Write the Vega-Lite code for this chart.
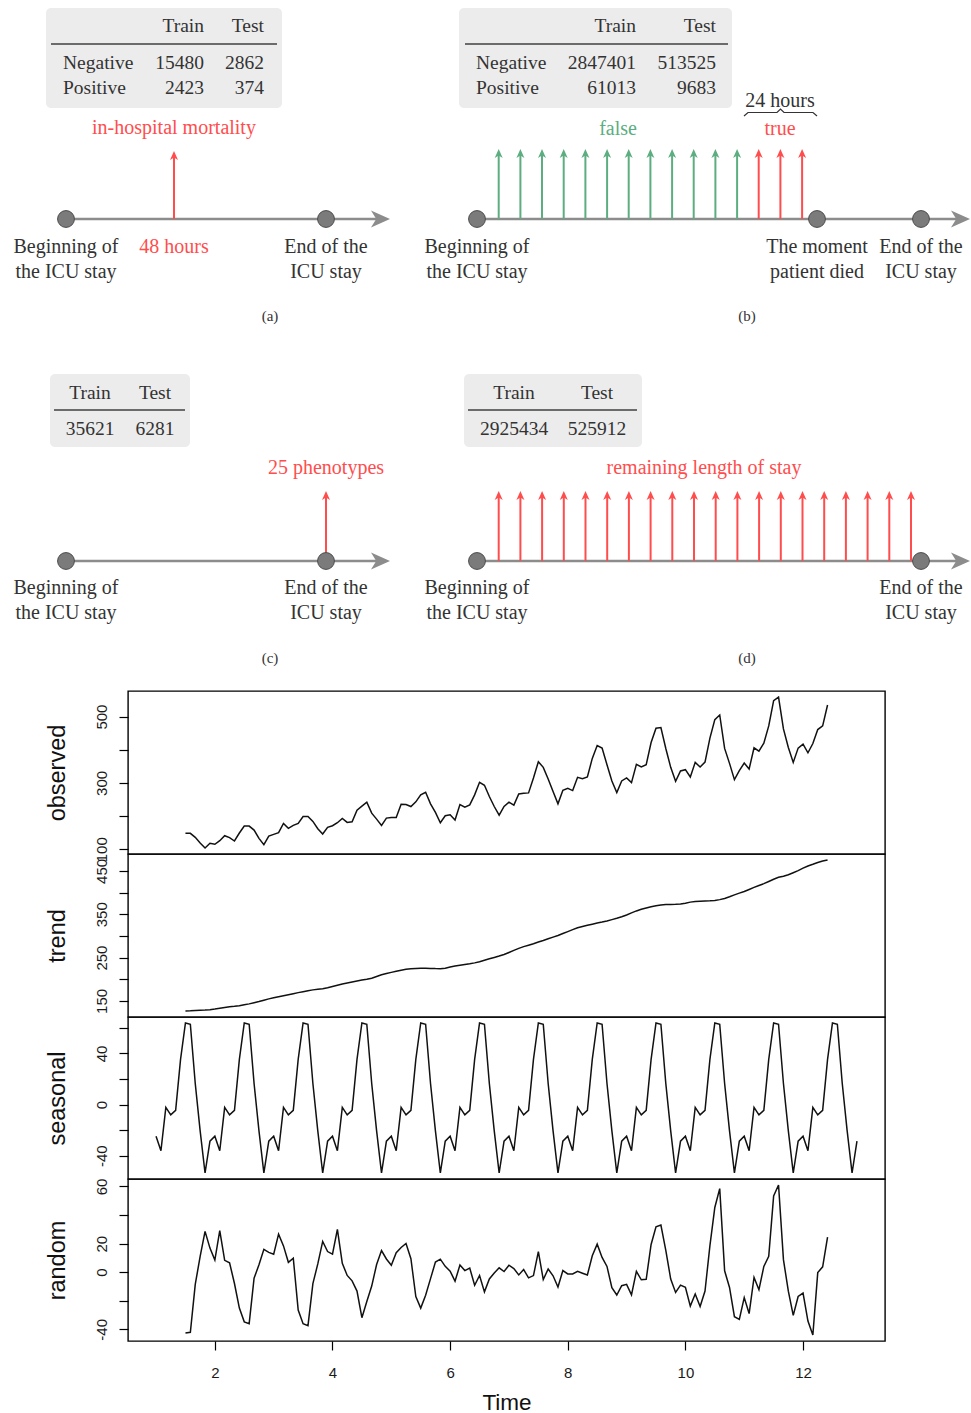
{
  "$schema": "https://vega.github.io/schema/vega-lite/v6.json",
  "padding": 0,
  "spacing": 0,
  "bounds": "flush",
  "background": "white",
  "resolve": {"scale": {"x": "independent", "y": "independent", "color": "independent"}},
  "config": {
    "view": {"stroke": "#000000", "strokeWidth": 1.4},
    "axis": {"labelFont": "Liberation Sans", "titleFont": "Liberation Sans", "grid": false, "domain": false, "tickColor": "#000000", "tickWidth": 1.2, "tickSize": 9, "labelColor": "#1a1a1a", "titleColor": "#111111", "titleFontWeight": "normal", "labelFontSize": 15, "titleFontSize": 23.5, "labelOverlap": false, "labelBound": false, "labelFlush": false},
    "text": {"font": "Liberation Serif"}
  },
  "datasets": {
    "anchor": [{"x": 0, "y": 0}],
    "tables": [
      {"x": 45, "x2": 281, "y": 7, "y2": 107},
      {"x": 458, "x2": 731, "y": 7, "y2": 107},
      {"x": 49, "x2": 189, "y": 373, "y2": 446},
      {"x": 463, "x2": 641, "y": 373, "y2": 446}
    ],
    "table_rules": [
      {"x": 50, "x2": 276, "y": 43},
      {"x": 464, "x2": 727, "y": 43},
      {"x": 53, "x2": 184, "y": 409},
      {"x": 467, "x2": 636, "y": 409}
    ],
    "tbl_right": [
      {"x": 203, "y": 25, "label": "Train"}, {"x": 263, "y": 25, "label": "Test"},
      {"x": 203, "y": 62, "label": "15480"}, {"x": 263, "y": 62, "label": "2862"},
      {"x": 203, "y": 87, "label": "2423"}, {"x": 263, "y": 87, "label": "374"},
      {"x": 635, "y": 25, "label": "Train"}, {"x": 715, "y": 25, "label": "Test"},
      {"x": 635, "y": 62, "label": "2847401"}, {"x": 715, "y": 62, "label": "513525"},
      {"x": 635, "y": 87, "label": "61013"}, {"x": 715, "y": 87, "label": "9683"}
    ],
    "tbl_left": [
      {"x": 62, "y": 62, "label": "Negative"}, {"x": 62, "y": 87, "label": "Positive"},
      {"x": 475, "y": 62, "label": "Negative"}, {"x": 475, "y": 87, "label": "Positive"}
    ],
    "tbl_center": [
      {"x": 89, "y": 392, "label": "Train"}, {"x": 154, "y": 392, "label": "Test"},
      {"x": 89, "y": 428, "label": "35621"}, {"x": 154, "y": 428, "label": "6281"},
      {"x": 513, "y": 392, "label": "Train"}, {"x": 596, "y": 392, "label": "Test"},
      {"x": 513, "y": 428, "label": "2925434"}, {"x": 596, "y": 428, "label": "525912"}
    ],
    "labels": [
      {"x": 173, "y": 127, "label": "in-hospital mortality", "cls": "positive"},
      {"x": 65, "y": 246, "label": "Beginning of", "cls": "neutral"},
      {"x": 65, "y": 271, "label": "the ICU stay", "cls": "neutral"},
      {"x": 173, "y": 246, "label": "48 hours", "cls": "positive"},
      {"x": 325, "y": 246, "label": "End of the", "cls": "neutral"},
      {"x": 325, "y": 271, "label": "ICU stay", "cls": "neutral"},
      {"x": 779, "y": 100, "label": "24 hours", "cls": "neutral"},
      {"x": 617, "y": 128, "label": "false", "cls": "negative"},
      {"x": 779, "y": 128, "label": "true", "cls": "positive"},
      {"x": 476, "y": 246, "label": "Beginning of", "cls": "neutral"},
      {"x": 476, "y": 271, "label": "the ICU stay", "cls": "neutral"},
      {"x": 816, "y": 246, "label": "The moment", "cls": "neutral"},
      {"x": 816, "y": 271, "label": "patient died", "cls": "neutral"},
      {"x": 920, "y": 246, "label": "End of the", "cls": "neutral"},
      {"x": 920, "y": 271, "label": "ICU stay", "cls": "neutral"},
      {"x": 325, "y": 467, "label": "25 phenotypes", "cls": "positive"},
      {"x": 65, "y": 587, "label": "Beginning of", "cls": "neutral"},
      {"x": 65, "y": 612, "label": "the ICU stay", "cls": "neutral"},
      {"x": 325, "y": 587, "label": "End of the", "cls": "neutral"},
      {"x": 325, "y": 612, "label": "ICU stay", "cls": "neutral"},
      {"x": 703, "y": 467, "label": "remaining length of stay", "cls": "positive"},
      {"x": 476, "y": 587, "label": "Beginning of", "cls": "neutral"},
      {"x": 476, "y": 612, "label": "the ICU stay", "cls": "neutral"},
      {"x": 920, "y": 587, "label": "End of the", "cls": "neutral"},
      {"x": 920, "y": 612, "label": "ICU stay", "cls": "neutral"}
    ],
    "captions": [
      {"x": 269, "y": 315, "label": "(a)"}, {"x": 746, "y": 315, "label": "(b)"},
      {"x": 269, "y": 657, "label": "(c)"}, {"x": 746, "y": 657, "label": "(d)"}
    ],
    "timelines": [
      {"x": 65, "x2": 389, "y": 218},
      {"x": 476, "x2": 969, "y": 218},
      {"x": 65, "x2": 389, "y": 560},
      {"x": 476, "x2": 969, "y": 560}
    ],
    "events": [
      {"x": 65, "y": 218}, {"x": 325, "y": 218},
      {"x": 476, "y": 218}, {"x": 816, "y": 218}, {"x": 920, "y": 218},
      {"x": 65, "y": 560}, {"x": 325, "y": 560},
      {"x": 476, "y": 560}, {"x": 920, "y": 560}
    ],
    "arrows": [
      {"x": 173, "y": 218, "y2": 150, "cls": "positive"},
      {"x": 497.7, "y": 218, "y2": 148, "cls": "negative"},
      {"x": 519.4, "y": 218, "y2": 148, "cls": "negative"},
      {"x": 541.0, "y": 218, "y2": 148, "cls": "negative"},
      {"x": 562.7, "y": 218, "y2": 148, "cls": "negative"},
      {"x": 584.4, "y": 218, "y2": 148, "cls": "negative"},
      {"x": 606.1, "y": 218, "y2": 148, "cls": "negative"},
      {"x": 627.7, "y": 218, "y2": 148, "cls": "negative"},
      {"x": 649.4, "y": 218, "y2": 148, "cls": "negative"},
      {"x": 671.1, "y": 218, "y2": 148, "cls": "negative"},
      {"x": 692.7, "y": 218, "y2": 148, "cls": "negative"},
      {"x": 714.4, "y": 218, "y2": 148, "cls": "negative"},
      {"x": 736.1, "y": 218, "y2": 148, "cls": "negative"},
      {"x": 757.7, "y": 218, "y2": 148, "cls": "positive"},
      {"x": 779.4, "y": 218, "y2": 148, "cls": "positive"},
      {"x": 801.1, "y": 218, "y2": 148, "cls": "positive"},
      {"x": 325, "y": 560, "y2": 490, "cls": "positive"},
      {"x": 497.7, "y": 560, "y2": 490, "cls": "positive"},
      {"x": 519.4, "y": 560, "y2": 490, "cls": "positive"},
      {"x": 541.1, "y": 560, "y2": 490, "cls": "positive"},
      {"x": 562.8, "y": 560, "y2": 490, "cls": "positive"},
      {"x": 584.5, "y": 560, "y2": 490, "cls": "positive"},
      {"x": 606.2, "y": 560, "y2": 490, "cls": "positive"},
      {"x": 627.9, "y": 560, "y2": 490, "cls": "positive"},
      {"x": 649.6, "y": 560, "y2": 490, "cls": "positive"},
      {"x": 671.3, "y": 560, "y2": 490, "cls": "positive"},
      {"x": 693.0, "y": 560, "y2": 490, "cls": "positive"},
      {"x": 714.7, "y": 560, "y2": 490, "cls": "positive"},
      {"x": 736.4, "y": 560, "y2": 490, "cls": "positive"},
      {"x": 758.1, "y": 560, "y2": 490, "cls": "positive"},
      {"x": 779.8, "y": 560, "y2": 490, "cls": "positive"},
      {"x": 801.5, "y": 560, "y2": 490, "cls": "positive"},
      {"x": 823.2, "y": 560, "y2": 490, "cls": "positive"},
      {"x": 844.9, "y": 560, "y2": 490, "cls": "positive"},
      {"x": 866.6, "y": 560, "y2": 490, "cls": "positive"},
      {"x": 888.3, "y": 560, "y2": 490, "cls": "positive"},
      {"x": 910.0, "y": 560, "y2": 490, "cls": "positive"}
    ],
    "brace": [
      {"x": 743, "y": 115, "ord": 1},
      {"x": 747, "y": 111.5, "ord": 2},
      {"x": 776, "y": 111.5, "ord": 3},
      {"x": 779.5, "y": 108, "ord": 4},
      {"x": 783, "y": 111.5, "ord": 5},
      {"x": 812, "y": 111.5, "ord": 6},
      {"x": 816, "y": 115, "ord": 7}
    ],
    "ts": [
      {"time": 1, "seasonal": -24.75},
      {"time": 1.0833, "seasonal": -36.19},
      {"time": 1.1667, "seasonal": -2.24},
      {"time": 1.25, "seasonal": -8.04},
      {"time": 1.3333, "seasonal": -4.51},
      {"time": 1.4167, "seasonal": 35.40},
      {"time": 1.5, "observed": 148, "trend": 126.79, "seasonal": 63.83, "random": -42.62},
      {"time": 1.5833, "observed": 148, "trend": 127.25, "seasonal": 62.82, "random": -42.07},
      {"time": 1.6667, "observed": 136, "trend": 127.96, "seasonal": 16.52, "random": -8.48},
      {"time": 1.75, "observed": 119, "trend": 128.58, "seasonal": -20.64, "random": 11.06},
      {"time": 1.8333, "observed": 104, "trend": 129.00, "seasonal": -53.59, "random": 28.59},
      {"time": 1.9167, "observed": 118, "trend": 129.75, "seasonal": -28.62, "random": 16.87},
      {"time": 2, "observed": 115, "trend": 131.25, "seasonal": -24.75, "random": 8.50},
      {"time": 2.0833, "observed": 126, "trend": 133.08, "seasonal": -36.19, "random": 29.11},
      {"time": 2.1667, "observed": 141, "trend": 134.92, "seasonal": -2.24, "random": 8.32},
      {"time": 2.25, "observed": 135, "trend": 136.42, "seasonal": -8.04, "random": 6.62},
      {"time": 2.3333, "observed": 125, "trend": 137.42, "seasonal": -4.51, "random": -7.91},
      {"time": 2.4167, "observed": 149, "trend": 138.75, "seasonal": 35.40, "random": -25.15},
      {"time": 2.5, "observed": 170, "trend": 140.92, "seasonal": 63.83, "random": -34.75},
      {"time": 2.5833, "observed": 170, "trend": 143.17, "seasonal": 62.82, "random": -35.99},
      {"time": 2.6667, "observed": 158, "trend": 145.71, "seasonal": 16.52, "random": -4.23},
      {"time": 2.75, "observed": 133, "trend": 148.42, "seasonal": -20.64, "random": 5.22},
      {"time": 2.8333, "observed": 114, "trend": 151.54, "seasonal": -53.59, "random": 16.05},
      {"time": 2.9167, "observed": 140, "trend": 154.71, "seasonal": -28.62, "random": 13.91},
      {"time": 3, "observed": 145, "trend": 157.13, "seasonal": -24.75, "random": 12.62},
      {"time": 3.0833, "observed": 150, "trend": 159.54, "seasonal": -36.19, "random": 26.65},
      {"time": 3.1667, "observed": 178, "trend": 161.83, "seasonal": -2.24, "random": 18.41},
      {"time": 3.25, "observed": 163, "trend": 164.13, "seasonal": -8.04, "random": 6.91},
      {"time": 3.3333, "observed": 172, "trend": 166.67, "seasonal": -4.51, "random": 9.84},
      {"time": 3.4167, "observed": 178, "trend": 169.08, "seasonal": 35.40, "random": -26.48},
      {"time": 3.5, "observed": 199, "trend": 171.25, "seasonal": 63.83, "random": -36.08},
      {"time": 3.5833, "observed": 199, "trend": 173.58, "seasonal": 62.82, "random": -37.40},
      {"time": 3.6667, "observed": 184, "trend": 175.46, "seasonal": 16.52, "random": -7.98},
      {"time": 3.75, "observed": 162, "trend": 176.83, "seasonal": -20.64, "random": 5.81},
      {"time": 3.8333, "observed": 146, "trend": 178.04, "seasonal": -53.59, "random": 21.55},
      {"time": 3.9167, "observed": 166, "trend": 180.17, "seasonal": -28.62, "random": 14.45},
      {"time": 4, "observed": 171, "trend": 183.13, "seasonal": -24.75, "random": 12.62},
      {"time": 4.0833, "observed": 180, "trend": 186.21, "seasonal": -36.19, "random": 29.98},
      {"time": 4.1667, "observed": 193, "trend": 189.04, "seasonal": -2.24, "random": 6.20},
      {"time": 4.25, "observed": 181, "trend": 191.29, "seasonal": -8.04, "random": -2.25},
      {"time": 4.3333, "observed": 183, "trend": 193.58, "seasonal": -4.51, "random": -6.07},
      {"time": 4.4167, "observed": 218, "trend": 195.83, "seasonal": 35.40, "random": -13.23},
      {"time": 4.5, "observed": 230, "trend": 198.04, "seasonal": 63.83, "random": -31.87},
      {"time": 4.5833, "observed": 242, "trend": 199.75, "seasonal": 62.82, "random": -20.57},
      {"time": 4.6667, "observed": 209, "trend": 202.21, "seasonal": 16.52, "random": -9.73},
      {"time": 4.75, "observed": 191, "trend": 206.25, "seasonal": -20.64, "random": 5.39},
      {"time": 4.8333, "observed": 172, "trend": 210.42, "seasonal": -53.59, "random": 15.17},
      {"time": 4.9167, "observed": 194, "trend": 213.38, "seasonal": -28.62, "random": 9.24},
      {"time": 5, "observed": 196, "trend": 215.83, "seasonal": -24.75, "random": 4.92},
      {"time": 5.0833, "observed": 196, "trend": 218.50, "seasonal": -36.19, "random": 13.69},
      {"time": 5.1667, "observed": 236, "trend": 220.92, "seasonal": -2.24, "random": 17.32},
      {"time": 5.25, "observed": 235, "trend": 222.92, "seasonal": -8.04, "random": 20.12},
      {"time": 5.3333, "observed": 229, "trend": 224.08, "seasonal": -4.51, "random": 9.43},
      {"time": 5.4167, "observed": 243, "trend": 224.71, "seasonal": 35.40, "random": -17.11},
      {"time": 5.5, "observed": 264, "trend": 225.33, "seasonal": 63.83, "random": -25.16},
      {"time": 5.5833, "observed": 272, "trend": 225.33, "seasonal": 62.82, "random": -16.15},
      {"time": 5.6667, "observed": 237, "trend": 224.96, "seasonal": 16.52, "random": -4.48},
      {"time": 5.75, "observed": 211, "trend": 224.58, "seasonal": -20.64, "random": 7.06},
      {"time": 5.8333, "observed": 180, "trend": 224.46, "seasonal": -53.59, "random": 9.13},
      {"time": 5.9167, "observed": 201, "trend": 225.54, "seasonal": -28.62, "random": 4.08},
      {"time": 6, "observed": 204, "trend": 228.00, "seasonal": -24.75, "random": 0.75},
      {"time": 6.0833, "observed": 188, "trend": 230.46, "seasonal": -36.19, "random": -6.27},
      {"time": 6.1667, "observed": 235, "trend": 232.25, "seasonal": -2.24, "random": 4.99},
      {"time": 6.25, "observed": 227, "trend": 233.92, "seasonal": -8.04, "random": 1.12},
      {"time": 6.3333, "observed": 234, "trend": 235.63, "seasonal": -4.51, "random": 2.88},
      {"time": 6.4167, "observed": 264, "trend": 237.75, "seasonal": 35.40, "random": -9.15},
      {"time": 6.5, "observed": 302, "trend": 240.50, "seasonal": 63.83, "random": -2.33},
      {"time": 6.5833, "observed": 293, "trend": 243.96, "seasonal": 62.82, "random": -13.78},
      {"time": 6.6667, "observed": 259, "trend": 247.17, "seasonal": 16.52, "random": -4.69},
      {"time": 6.75, "observed": 229, "trend": 250.25, "seasonal": -20.64, "random": -0.61},
      {"time": 6.8333, "observed": 203, "trend": 253.50, "seasonal": -53.59, "random": 3.09},
      {"time": 6.9167, "observed": 229, "trend": 257.13, "seasonal": -28.62, "random": 0.49},
      {"time": 7, "observed": 242, "trend": 261.83, "seasonal": -24.75, "random": 4.92},
      {"time": 7.0833, "observed": 233, "trend": 266.67, "seasonal": -36.19, "random": 2.52},
      {"time": 7.1667, "observed": 267, "trend": 271.13, "seasonal": -2.24, "random": -1.89},
      {"time": 7.25, "observed": 269, "trend": 275.21, "seasonal": -8.04, "random": 1.83},
      {"time": 7.3333, "observed": 270, "trend": 278.50, "seasonal": -4.51, "random": -3.99},
      {"time": 7.4167, "observed": 315, "trend": 281.96, "seasonal": 35.40, "random": -2.36},
      {"time": 7.5, "observed": 364, "trend": 285.75, "seasonal": 63.83, "random": 14.42},
      {"time": 7.5833, "observed": 347, "trend": 289.33, "seasonal": 62.82, "random": -5.15},
      {"time": 7.6667, "observed": 312, "trend": 293.25, "seasonal": 16.52, "random": 2.23},
      {"time": 7.75, "observed": 274, "trend": 297.17, "seasonal": -20.64, "random": -2.53},
      {"time": 7.8333, "observed": 237, "trend": 301.00, "seasonal": -53.59, "random": -10.41},
      {"time": 7.9167, "observed": 278, "trend": 305.46, "seasonal": -28.62, "random": 1.16},
      {"time": 8, "observed": 284, "trend": 309.96, "seasonal": -24.75, "random": -1.21},
      {"time": 8.0833, "observed": 277, "trend": 314.42, "seasonal": -36.19, "random": -1.23},
      {"time": 8.1667, "observed": 317, "trend": 318.63, "seasonal": -2.24, "random": 0.61},
      {"time": 8.25, "observed": 313, "trend": 321.75, "seasonal": -8.04, "random": -0.71},
      {"time": 8.3333, "observed": 318, "trend": 324.50, "seasonal": -4.51, "random": -1.99},
      {"time": 8.4167, "observed": 374, "trend": 327.08, "seasonal": 35.40, "random": 11.52},
      {"time": 8.5, "observed": 413, "trend": 329.54, "seasonal": 63.83, "random": 19.63},
      {"time": 8.5833, "observed": 405, "trend": 331.83, "seasonal": 62.82, "random": 10.35},
      {"time": 8.6667, "observed": 355, "trend": 334.46, "seasonal": 16.52, "random": 4.02},
      {"time": 8.75, "observed": 306, "trend": 337.54, "seasonal": -20.64, "random": -10.90},
      {"time": 8.8333, "observed": 271, "trend": 340.54, "seasonal": -53.59, "random": -15.95},
      {"time": 8.9167, "observed": 306, "trend": 344.08, "seasonal": -28.62, "random": -9.46},
      {"time": 9, "observed": 315, "trend": 348.25, "seasonal": -24.75, "random": -8.50},
      {"time": 9.0833, "observed": 301, "trend": 353.00, "seasonal": -36.19, "random": -15.81},
      {"time": 9.1667, "observed": 356, "trend": 357.63, "seasonal": -2.24, "random": 0.61},
      {"time": 9.25, "observed": 348, "trend": 361.38, "seasonal": -8.04, "random": -5.34},
      {"time": 9.3333, "observed": 355, "trend": 364.50, "seasonal": -4.51, "random": -4.99},
      {"time": 9.4167, "observed": 422, "trend": 367.17, "seasonal": 35.40, "random": 19.43},
      {"time": 9.5, "observed": 465, "trend": 369.46, "seasonal": 63.83, "random": 31.71},
      {"time": 9.5833, "observed": 467, "trend": 371.21, "seasonal": 62.82, "random": 32.97},
      {"time": 9.6667, "observed": 404, "trend": 372.17, "seasonal": 16.52, "random": 15.31},
      {"time": 9.75, "observed": 347, "trend": 372.42, "seasonal": -20.64, "random": -4.78},
      {"time": 9.8333, "observed": 305, "trend": 372.75, "seasonal": -53.59, "random": -14.16},
      {"time": 9.9167, "observed": 336, "trend": 373.63, "seasonal": -28.62, "random": -9.01},
      {"time": 10, "observed": 340, "trend": 375.25, "seasonal": -24.75, "random": -10.50},
      {"time": 10.0833, "observed": 318, "trend": 377.92, "seasonal": -36.19, "random": -23.73},
      {"time": 10.1667, "observed": 362, "trend": 379.50, "seasonal": -2.24, "random": -15.26},
      {"time": 10.25, "observed": 348, "trend": 380.00, "seasonal": -8.04, "random": -23.96},
      {"time": 10.3333, "observed": 363, "trend": 380.71, "seasonal": -4.51, "random": -13.20},
      {"time": 10.4167, "observed": 435, "trend": 380.96, "seasonal": 35.40, "random": 18.64},
      {"time": 10.5, "observed": 491, "trend": 381.83, "seasonal": 63.83, "random": 45.34},
      {"time": 10.5833, "observed": 505, "trend": 383.67, "seasonal": 62.82, "random": 58.51},
      {"time": 10.6667, "observed": 404, "trend": 386.50, "seasonal": 16.52, "random": 0.98},
      {"time": 10.75, "observed": 359, "trend": 390.33, "seasonal": -20.64, "random": -10.69},
      {"time": 10.8333, "observed": 310, "trend": 394.71, "seasonal": -53.59, "random": -31.12},
      {"time": 10.9167, "observed": 337, "trend": 398.63, "seasonal": -28.62, "random": -33.01},
      {"time": 11, "observed": 360, "trend": 402.54, "seasonal": -24.75, "random": -17.79},
      {"time": 11.0833, "observed": 342, "trend": 407.17, "seasonal": -36.19, "random": -28.98},
      {"time": 11.1667, "observed": 406, "trend": 411.88, "seasonal": -2.24, "random": -3.64},
      {"time": 11.25, "observed": 396, "trend": 416.33, "seasonal": -8.04, "random": -12.29},
      {"time": 11.3333, "observed": 420, "trend": 420.50, "seasonal": -4.51, "random": 4.01},
      {"time": 11.4167, "observed": 472, "trend": 425.50, "seasonal": 35.40, "random": 11.10},
      {"time": 11.5, "observed": 548, "trend": 430.71, "seasonal": 63.83, "random": 53.46},
      {"time": 11.5833, "observed": 559, "trend": 435.13, "seasonal": 62.82, "random": 61.05},
      {"time": 11.6667, "observed": 463, "trend": 437.71, "seasonal": 16.52, "random": 8.77},
      {"time": 11.75, "observed": 407, "trend": 440.96, "seasonal": -20.64, "random": -13.32},
      {"time": 11.8333, "observed": 362, "trend": 445.83, "seasonal": -53.59, "random": -30.24},
      {"time": 11.9167, "observed": 405, "trend": 450.63, "seasonal": -28.62, "random": -17.01},
      {"time": 12, "observed": 417, "trend": 456.33, "seasonal": -24.75, "random": -14.58},
      {"time": 12.0833, "observed": 391, "trend": 461.38, "seasonal": -36.19, "random": -34.19},
      {"time": 12.1667, "observed": 419, "trend": 465.21, "seasonal": -2.24, "random": -43.97},
      {"time": 12.25, "observed": 461, "trend": 469.33, "seasonal": -8.04, "random": -0.29},
      {"time": 12.3333, "observed": 472, "trend": 472.75, "seasonal": -4.51, "random": 3.76},
      {"time": 12.4167, "observed": 535, "trend": 475.04, "seasonal": 35.40, "random": 24.56},
      {"time": 12.5, "seasonal": 63.83},
      {"time": 12.5833, "seasonal": 62.82},
      {"time": 12.6667, "seasonal": 16.52},
      {"time": 12.75, "seasonal": -20.64},
      {"time": 12.8333, "seasonal": -53.59},
      {"time": 12.9167, "seasonal": -28.62}
    ]
  },
  "vconcat": [
    {
      "width": 757,
      "height": 690,
      "view": {"stroke": null},
      "layer": [
        {
          "data": {"name": "anchor"},
          "mark": {"type": "point", "opacity": 0, "size": 1, "filled": true},
          "encoding": {
            "x": {"field": "x", "type": "quantitative", "scale": {"domain": [127, 884], "nice": false, "zero": false}, "axis": null},
            "y": {"field": "y", "type": "quantitative", "scale": {"domain": [0, 690], "nice": false, "zero": false, "reverse": true}, "axis": null}
          }
        },
        {
          "data": {"name": "tables"},
          "mark": {"type": "rect", "color": "#ececec", "cornerRadius": 5},
          "encoding": {
            "x": {"field": "x", "type": "quantitative"},
            "x2": {"field": "x2"},
            "y": {"field": "y", "type": "quantitative"},
            "y2": {"field": "y2"}
          }
        },
        {
          "data": {"name": "table_rules"},
          "mark": {"type": "rule", "color": "#404040", "strokeWidth": 1.6},
          "encoding": {
            "x": {"field": "x", "type": "quantitative"},
            "x2": {"field": "x2"},
            "y": {"field": "y", "type": "quantitative"}
          }
        },
        {
          "data": {"name": "timelines"},
          "mark": {"type": "rule", "color": "#8c8c8c", "strokeWidth": 2.5, "x2Offset": -10},
          "encoding": {
            "x": {"field": "x", "type": "quantitative"},
            "x2": {"field": "x2"},
            "y": {"field": "y", "type": "quantitative"}
          }
        },
        {
          "data": {"name": "timelines"},
          "mark": {"type": "point", "shape": "M1,0 L-1,-0.9 L-0.45,0 L-1,0.9 Z", "filled": true, "opacity": 1, "size": 361, "color": "#8c8c8c", "xOffset": -9.5},
          "encoding": {
            "x": {"field": "x2", "type": "quantitative"},
            "y": {"field": "y", "type": "quantitative"}
          }
        },
        {
          "data": {"name": "arrows"},
          "mark": {"type": "rule", "strokeWidth": 2, "y2Offset": 4},
          "encoding": {
            "x": {"field": "x", "type": "quantitative"},
            "y": {"field": "y", "type": "quantitative"},
            "y2": {"field": "y2"},
            "color": {"field": "cls", "type": "nominal", "scale": {"domain": ["neutral", "positive", "negative"], "range": ["#333333", "#ff4d4d", "#5cad80"]}, "legend": null}
          }
        },
        {
          "data": {"name": "arrows"},
          "mark": {"type": "point", "shape": "M0,-1 L0.8,0.8 L0,0.3 L-0.8,0.8 Z", "filled": true, "opacity": 1, "size": 100, "yOffset": 5},
          "encoding": {
            "x": {"field": "x", "type": "quantitative"},
            "y": {"field": "y2", "type": "quantitative"},
            "color": {"field": "cls", "type": "nominal", "legend": null}
          }
        },
        {
          "data": {"name": "brace"},
          "mark": {"type": "line", "color": "#333333", "strokeWidth": 1.2},
          "encoding": {
            "x": {"field": "x", "type": "quantitative"},
            "y": {"field": "y", "type": "quantitative"},
            "order": {"field": "ord", "type": "quantitative"}
          }
        },
        {
          "data": {"name": "events"},
          "mark": {"type": "point", "shape": "circle", "filled": true, "opacity": 1, "size": 283, "color": "#7b7b7b", "stroke": "#4d4d4d", "strokeWidth": 1},
          "encoding": {
            "x": {"field": "x", "type": "quantitative"},
            "y": {"field": "y", "type": "quantitative"}
          }
        },
        {
          "data": {"name": "tbl_right"},
          "mark": {"type": "text", "align": "right", "baseline": "middle", "fontSize": 19.5, "color": "#333333"},
          "encoding": {
            "x": {"field": "x", "type": "quantitative"},
            "y": {"field": "y", "type": "quantitative"},
            "text": {"field": "label"}
          }
        },
        {
          "data": {"name": "tbl_left"},
          "mark": {"type": "text", "align": "left", "baseline": "middle", "fontSize": 19.5, "color": "#333333"},
          "encoding": {
            "x": {"field": "x", "type": "quantitative"},
            "y": {"field": "y", "type": "quantitative"},
            "text": {"field": "label"}
          }
        },
        {
          "data": {"name": "tbl_center"},
          "mark": {"type": "text", "align": "center", "baseline": "middle", "fontSize": 19.5, "color": "#333333"},
          "encoding": {
            "x": {"field": "x", "type": "quantitative"},
            "y": {"field": "y", "type": "quantitative"},
            "text": {"field": "label"}
          }
        },
        {
          "data": {"name": "labels"},
          "mark": {"type": "text", "align": "center", "baseline": "middle", "fontSize": 20},
          "encoding": {
            "x": {"field": "x", "type": "quantitative"},
            "y": {"field": "y", "type": "quantitative"},
            "text": {"field": "label"},
            "color": {"field": "cls", "type": "nominal", "legend": null}
          }
        },
        {
          "data": {"name": "captions"},
          "mark": {"type": "text", "align": "center", "baseline": "middle", "fontSize": 15, "color": "#333333"},
          "encoding": {
            "x": {"field": "x", "type": "quantitative"},
            "y": {"field": "y", "type": "quantitative"},
            "text": {"field": "label"}
          }
        }
      ]
    },
    {
      "width": 757,
      "height": 163,
      "data": {"name": "ts"},
      "mark": {"type": "line", "color": "#111111", "strokeWidth": 1.5},
      "encoding": {
        "x": {"field": "time", "type": "quantitative", "scale": {"domain": [0.5233, 13.3933], "nice": false, "zero": false}, "axis": null},
        "y": {"field": "observed", "type": "quantitative", "scale": {"domain": [85.8, 577.2], "nice": false, "zero": false},
          "axis": {"title": "observed", "values": [100, 200, 300, 400, 500], "labelExpr": "datum.value % 200 == 100 ? '' + datum.value : ''", "labelAngle": 270, "labelAlign": "center", "labelBaseline": "bottom", "labelPadding": 10, "titleX": -71, "titleY": 81.5, "titleAngle": 270, "titleAlign": "center", "titleBaseline": "middle"}}
      }
    },
    {
      "width": 757,
      "height": 163,
      "data": {"name": "ts"},
      "mark": {"type": "line", "color": "#111111", "strokeWidth": 1.5},
      "encoding": {
        "x": {"field": "time", "type": "quantitative", "scale": {"domain": [0.5233, 13.3933], "nice": false, "zero": false}, "axis": null},
        "y": {"field": "trend", "type": "quantitative", "scale": {"domain": [112.86, 488.97], "nice": false, "zero": false},
          "axis": {"title": "trend", "values": [150, 200, 250, 300, 350, 400, 450], "labelExpr": "datum.value % 100 == 50 ? '' + datum.value : ''", "labelAngle": 270, "labelAlign": "center", "labelBaseline": "bottom", "labelPadding": 10, "titleX": -71, "titleY": 81.5, "titleAngle": 270, "titleAlign": "center", "titleBaseline": "middle"}}
      }
    },
    {
      "width": 757,
      "height": 162,
      "data": {"name": "ts"},
      "mark": {"type": "line", "color": "#111111", "strokeWidth": 1.5},
      "encoding": {
        "x": {"field": "time", "type": "quantitative", "scale": {"domain": [0.5233, 13.3933], "nice": false, "zero": false}, "axis": null},
        "y": {"field": "seasonal", "type": "quantitative", "scale": {"domain": [-58.29, 68.53], "nice": false, "zero": false},
          "axis": {"title": "seasonal", "values": [-40, -20, 0, 20, 40, 60], "labelExpr": "datum.value % 40 == 0 ? '' + datum.value : ''", "labelAngle": 270, "labelAlign": "center", "labelBaseline": "bottom", "labelPadding": 10, "titleX": -71, "titleY": 81, "titleAngle": 270, "titleAlign": "center", "titleBaseline": "middle"}}
      }
    },
    {
      "width": 757,
      "height": 162,
      "data": {"name": "ts"},
      "mark": {"type": "line", "color": "#111111", "strokeWidth": 1.5},
      "encoding": {
        "x": {"field": "time", "type": "quantitative", "scale": {"domain": [0.5233, 13.3933], "nice": false, "zero": false},
          "axis": {"title": "Time", "values": [2, 4, 6, 8, 10, 12], "labelPadding": 15, "titleFontSize": 22.5, "titleY": 61, "titleBaseline": "middle"}},
        "y": {"field": "random", "type": "quantitative", "scale": {"domain": [-48.17, 65.25], "nice": false, "zero": false},
          "axis": {"title": "random", "values": [-40, -20, 0, 20, 40, 60], "labelExpr": "indexof([-40, 0, 20, 60], datum.value) >= 0 ? '' + datum.value : ''", "labelAngle": 270, "labelAlign": "center", "labelBaseline": "bottom", "labelPadding": 10, "titleX": -71, "titleY": 81, "titleAngle": 270, "titleAlign": "center", "titleBaseline": "middle"}}
      }
    }
  ]
}
